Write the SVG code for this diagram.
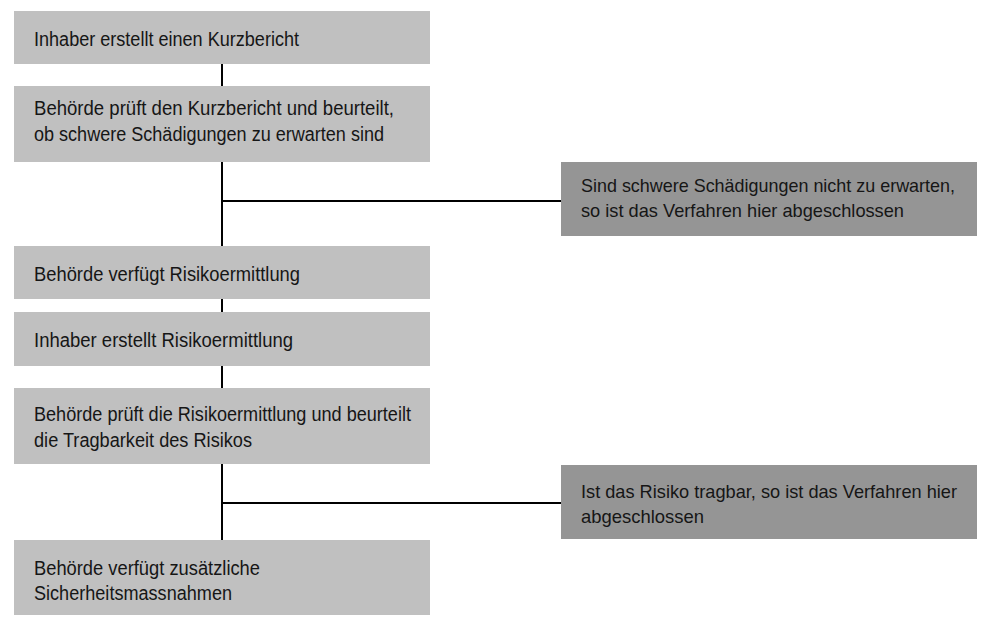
<svg xmlns="http://www.w3.org/2000/svg" width="991" height="632" viewBox="0 0 991 632">
<style>
.box{fill:#c0c0c0}
.end{fill:#959595}
.t{font-family:"Liberation Sans",Arial,sans-serif;font-size:20px;fill:#161616}
.r{font-size:19px}
.c{stroke:#000;stroke-width:2;fill:none}
</style>
<rect width="991" height="632" fill="#fff"/>
<g id="connectors">
<line class="c" x1="222" y1="64" x2="222" y2="86"/>
<line class="c" x1="222" y1="162" x2="222" y2="246"/>
<line class="c" x1="222" y1="201" x2="561" y2="201"/>
<line class="c" x1="222" y1="299" x2="222" y2="312"/>
<line class="c" x1="222" y1="366" x2="222" y2="388"/>
<line class="c" x1="222" y1="464" x2="222" y2="540"/>
<line class="c" x1="222" y1="503" x2="561" y2="503"/>
</g>
<g id="n1"><rect class="box" x="14" y="11" width="416" height="53"/>
<text class="t" x="34" y="46" textLength="265" lengthAdjust="spacingAndGlyphs">Inhaber erstellt einen Kurzbericht</text></g>
<g id="n2"><rect class="box" x="14" y="86" width="416" height="76"/>
<text class="t" x="34" y="115" textLength="360" lengthAdjust="spacingAndGlyphs">Behörde prüft den Kurzbericht und beurteilt,</text>
<text class="t" x="34" y="141" textLength="350" lengthAdjust="spacingAndGlyphs">ob schwere Schädigungen zu erwarten sind</text></g>
<g id="e1"><rect class="end" x="561" y="162" width="416" height="74"/>
<text class="t r" x="581" y="192" textLength="374" lengthAdjust="spacingAndGlyphs">Sind schwere Schädigungen nicht zu erwarten,</text>
<text class="t r" x="581" y="217" textLength="323" lengthAdjust="spacingAndGlyphs">so ist das Verfahren hier abgeschlossen</text></g>
<g id="n3"><rect class="box" x="14" y="246" width="416" height="53"/>
<text class="t" x="34" y="281" textLength="266" lengthAdjust="spacingAndGlyphs">Behörde verfügt Risikoermittlung</text></g>
<g id="n4"><rect class="box" x="14" y="312" width="416" height="54"/>
<text class="t" x="34" y="347" textLength="259" lengthAdjust="spacingAndGlyphs">Inhaber erstellt Risikoermittlung</text></g>
<g id="n5"><rect class="box" x="14" y="388" width="416" height="76"/>
<text class="t" x="34" y="421" textLength="377" lengthAdjust="spacingAndGlyphs">Behörde prüft die Risikoermittlung und beurteilt</text>
<text class="t" x="34" y="447" textLength="218" lengthAdjust="spacingAndGlyphs">die Tragbarkeit des Risikos</text></g>
<g id="e2"><rect class="end" x="561" y="465" width="416" height="74"/>
<text class="t r" x="581" y="498" textLength="376" lengthAdjust="spacingAndGlyphs">Ist das Risiko tragbar, so ist das Verfahren hier</text>
<text class="t r" x="581" y="523" textLength="123" lengthAdjust="spacingAndGlyphs">abgeschlossen</text></g>
<g id="n6"><rect class="box" x="14" y="540" width="416" height="75"/>
<text class="t" x="34" y="575" textLength="226" lengthAdjust="spacingAndGlyphs">Behörde verfügt zusätzliche</text>
<text class="t" x="34" y="600" textLength="198" lengthAdjust="spacingAndGlyphs">Sicherheitsmassnahmen</text></g>
</svg>
